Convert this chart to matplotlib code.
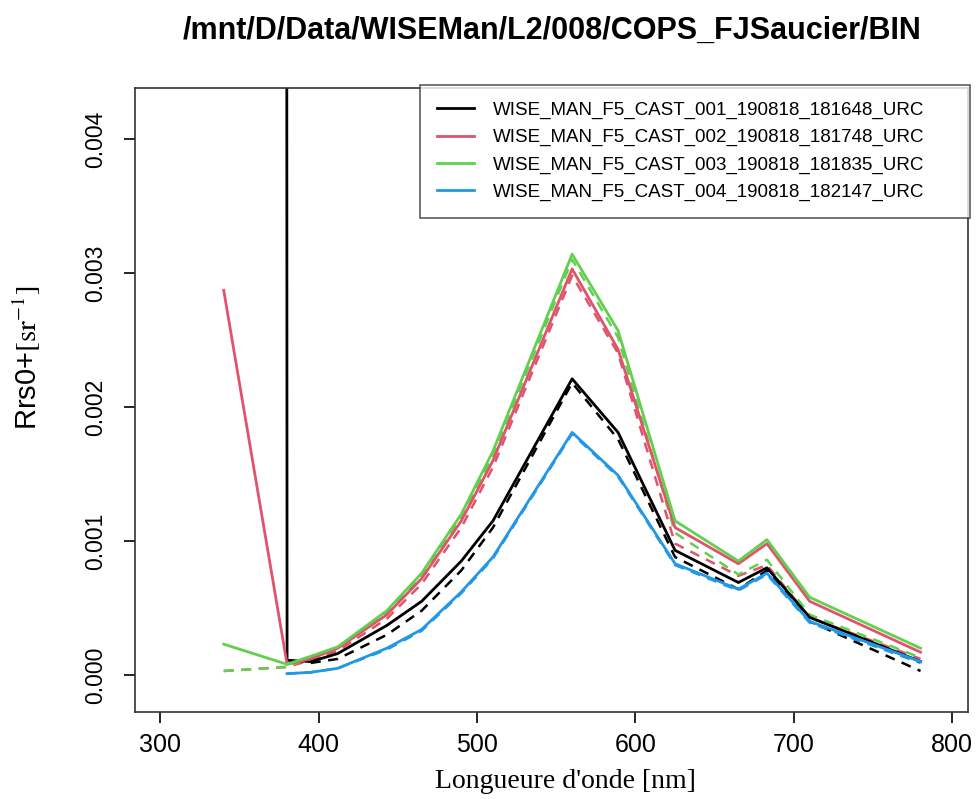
import numpy as np
import matplotlib
matplotlib.use("Agg")
import matplotlib.pyplot as plt

plt.rcParams['font.family'] = ['Liberation Sans', 'DejaVu Sans']
plt.rcParams['mathtext.fontset'] = 'stix'

wavelengths = [340, 380, 395, 412, 443, 465, 490, 510, 560, 589, 625, 665, 683, 710, 780]

# solid lines (one per cast); nan where there is no value
cast1 = [1.0, 0.00011, 0.00010, 0.00016, 0.00037, 0.00055, 0.00085, 0.00115, 0.00221, 0.00181, 0.00093, 0.00069, 0.00080, 0.00043, 0.00010]
cast2 = [0.00287, 0.00008, 0.00012, 0.00020, 0.00045, 0.00072, 0.00115, 0.00160, 0.00303, 0.00243, 0.00110, 0.00083, 0.00098, 0.00055, 0.00017]
cast3 = [0.00023, 0.00008, 0.00014, 0.00021, 0.00048, 0.00076, 0.00120, 0.00167, 0.00314, 0.00257, 0.00115, 0.00085, 0.00101, 0.00058, 0.00020]
cast4 = [np.nan, 0.00001, 0.00002, 0.00005, 0.00020, 0.00034, 0.00062, 0.00088, 0.00181, 0.00149, 0.00083, 0.00064, 0.00076, 0.00040, 0.00010]

# dashed lines
cast1_d = [np.nan, np.nan, 0.00009, 0.00012, 0.00030, 0.00048, 0.00078, 0.00110, 0.00218, 0.00176, 0.00088, 0.00064, 0.00078, 0.00040, 0.00003]
cast2_d = [0.00003, 0.00006, 0.00011, 0.00018, 0.00042, 0.00068, 0.00110, 0.00155, 0.00298, 0.00240, 0.00098, 0.00074, 0.00082, 0.00043, 0.00012]
cast3_d = [0.00003, 0.00006, 0.00013, 0.00020, 0.00046, 0.00074, 0.00118, 0.00164, 0.00310, 0.00252, 0.00106, 0.00075, 0.00086, 0.00045, 0.00013]
cast4_d = [np.nan, 0.00001, 0.00002, 0.00005, 0.00019, 0.00033, 0.00061, 0.00087, 0.00180, 0.00148, 0.00082, 0.00063, 0.00075, 0.00039, 0.00009]

labels = ["WISE_MAN_F5_CAST_001_190818_181648_URC",
          "WISE_MAN_F5_CAST_002_190818_181748_URC",
          "WISE_MAN_F5_CAST_003_190818_181835_URC",
          "WISE_MAN_F5_CAST_004_190818_182147_URC"]
colors = ["black", "#DF536B", "#61D04F", "#2297E6"]

fig = plt.figure(figsize=(9.8, 7.99), dpi=100)
ax = fig.add_axes([0.1378, 0.1089, 0.85, 0.781])

solid = [cast1, cast2, cast3, cast4]
dashed = [cast1_d, cast2_d, cast3_d, cast4_d]
for d, c in zip(dashed, colors):
    ax.plot(wavelengths, d, color=c, lw=1.8, ls=(0, (4, 3)))
for s, c, lab in zip(solid, colors, labels):
    ax.plot(wavelengths, s, color=c, lw=2.0, label=lab)

ax.set_xlim(284, 810)
ax.set_ylim(-0.000276, 0.00438)
ax.set_xticks([300, 400, 500, 600, 700, 800])
ax.set_yticks([0.000, 0.001, 0.002, 0.003, 0.004])
ax.set_yticklabels(["0.000", "0.001", "0.002", "0.003", "0.004"], rotation=90, va='center')
ax.tick_params(direction='out', length=8, width=1.2)
ax.tick_params(axis='x', labelsize=18, pad=7)
ax.tick_params(axis='y', labelsize=16.5, pad=12)
for sp in ax.spines.values():
    sp.set_linewidth(1.2)
    sp.set_color('#333333')

ax.set_xlabel("Longueure d'onde [nm]", family='Liberation Serif', fontsize=20)
ax.xaxis.set_label_coords(0.517, -0.092)
ax.set_ylabel(r"Rrs0+$\mathrm{[sr^{-1}]}$", fontsize=21)
ax.yaxis.set_label_coords(-0.11, 0.567)

leg = ax.legend(loc='upper left', bbox_to_anchor=(0.342, 0.0, 0.66, 1.005), mode='expand',
                fontsize=13.5, frameon=True, fancybox=False, edgecolor='#333333',
                handlelength=2.0, handletextpad=1.0, borderpad=0.9,
                labelspacing=0.53, borderaxespad=0.0)
leg.get_frame().set_linewidth(1.2)

fig.text(0.563, 1 - 31 / 799, "/mnt/D/Data/WISEMan/L2/008/COPS_FJSaucier/BIN",
         fontsize=22, fontweight='bold', ha='center', va='center')

fig.savefig("out.png", dpi=100)
